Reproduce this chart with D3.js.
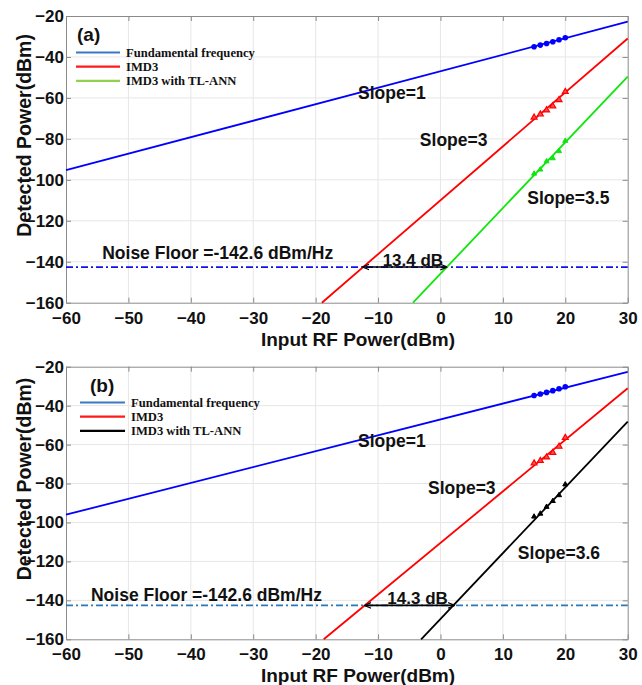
<!DOCTYPE html>
<html>
<head>
<meta charset="utf-8">
<script src="https://cdn.jsdelivr.net/npm/d3@7"></script>
<style>
  body { margin: 0; background: #fff; }
  text { font-family: 'Liberation Sans', Arial, sans-serif; font-weight: bold; fill: #111; }
  .legend text { font-family: 'Liberation Serif', 'Times New Roman', serif; font-size: 12.6px; }
</style>
</head>
<body>
<div id="chart"></div>
<script>
// data
const xTicks = [-60, -50, -40, -30, -20, -10, 0, 10, 20, 30]
const yTicks = [-20, -40, -60, -80, -100, -120, -140, -160]
const legendLabels = ['Fundamental frequency', 'IMD3', 'IMD3 with TL-ANN']
const noiseFloor = -142.6
const noiseLabel = 'Noise Floor =-142.6 dBm/Hz'

const measuredX = [15, 16, 17, 18, 19, 20]

// panel (a)
const fundLineA = [[-60, -95.3], [30, -22.8]]
const imd3LineA = [[-19, -160], [30, -31]]
const annLineA = [[-4.4, -160], [30, -49.6]]
const fundPtsA = [-35, -34.2, -33.4, -32.6, -31.6, -30.6]
const imd3PtsA = [-69.5, -68, -66, -64, -61, -57]
const annPtsA = [-97, -95, -91, -89.5, -86, -81]
const gapA = [-12.4, 1.0]
const gapLabelA = '13.4 dB'
const slopeLabelsA = ['Slope=1', 'Slope=3', 'Slope=3.5']

// panel (b)
const fundLineB = [[-60, -96], [30, -22.6]]
const imd3LineB = [[-18.7, -160], [30, -31.1]]
const annLineB = [[-3.1, -160], [30, -48.2]]
const fundPtsB = [-34.8, -34, -33.2, -32.3, -31.3, -30.3]
const imd3PtsB = [-69.6, -68.3, -66.5, -64.2, -61, -56.5]
const annPtsB = [-97, -95.5, -92, -89, -86, -80.5]
const gapB = [-12.1, 2.2]
const gapLabelB = '14.3 dB'
const slopeLabelsB = ['Slope=1', 'Slope=3', 'Slope=3.6']

const width = 642
const height = 685

const svg = d3.select('#chart')
  .append('svg')
  .attr('width', width)
  .attr('height', height)

const defs = svg.append('defs')
defs.append('marker')
  .attr('id', 'arrow')
  .attr('viewBox', '0 0 10 10')
  .attr('refX', 9)
  .attr('refY', 5)
  .attr('markerWidth', 7)
  .attr('markerHeight', 7)
  .attr('markerUnits', 'userSpaceOnUse')
  .attr('orient', 'auto-start-reverse')
  .append('path')
  .attr('d', 'M0,1 L10,5 L0,9')
  .attr('fill', 'none')
  .attr('stroke', '#000')
  .attr('stroke-width', 1.6)

const panels = [
  {
    tag: '(a)', top: 16, bottom: 302.7,
    fundLine: fundLineA, imd3Line: imd3LineA, annLine: annLineA,
    fundPts: fundPtsA, imd3Pts: imd3PtsA, annPts: annPtsA,
    annColor: '#0ee60e', annLegend: '#92d050', noiseColor: '#1010f0',
    gap: gapA, gapLabel: gapLabelA, slopes: slopeLabelsA,
    slopePos: [[-13.2, -60.5], [-3.3, -83.5], [13.9, -111.8]],
    noisePos: [-54.2, -138.8],
    tagPos: [77, 41], legendX: 76, legendY: 52.5, legendW: 44
  },
  {
    tag: '(b)', top: 366.7, bottom: 639.3,
    fundLine: fundLineB, imd3Line: imd3LineB, annLine: annLineB,
    fundPts: fundPtsB, imd3Pts: imd3PtsB, annPts: annPtsB,
    annColor: '#000', annLegend: '#000', noiseColor: '#2a78b8',
    gap: gapB, gapLabel: gapLabelB, slopes: slopeLabelsB,
    slopePos: [[-13.2, -61], [-2.0, -85.2], [12.4, -118.6]],
    noisePos: [-56.0, -140.3],
    tagPos: [90, 392], legendX: 80, legendY: 402.5, legendW: 45
  }
]

panels.forEach(drawPanel)

function drawPanel(p) {
  const g = svg.append('g')

  const x = d3.scaleLinear().domain([-60, 30]).range([66, 627.7])
  const y = d3.scaleLinear().domain([-160, -20]).range([p.bottom, p.top])

  // grid
  g.append('g')
    .selectAll('line')
    .data(xTicks.slice(1, -1))
    .enter()
    .append('line')
    .attr('x1', d => x(d))
    .attr('x2', d => x(d))
    .attr('y1', p.top)
    .attr('y2', p.bottom)
    .attr('stroke', '#e6e6e6')

  g.append('g')
    .selectAll('line')
    .data(yTicks.slice(1, -1))
    .enter()
    .append('line')
    .attr('y1', d => y(d))
    .attr('y2', d => y(d))
    .attr('x1', x(-60))
    .attr('x2', x(30))
    .attr('stroke', '#e6e6e6')

  // axes, ticks pointing inward like matlab
  const axisColor = '#8a8a8a'
  const bottomAxis = g.append('g')
    .attr('transform', `translate(0,${p.bottom})`)
    .call(d3.axisBottom(x).tickValues(xTicks).tickSize(-5).tickSizeOuter(0).tickPadding(9))
  const leftAxis = g.append('g')
    .attr('transform', `translate(66,0)`)
    .call(d3.axisLeft(y).tickValues(yTicks).tickSize(-5).tickSizeOuter(0).tickPadding(2))
  const topAxis = g.append('g')
    .attr('transform', `translate(0,${p.top})`)
    .call(d3.axisTop(x).tickValues(xTicks).tickSize(-5).tickSizeOuter(0).tickFormat(''))
  const rightAxis = g.append('g')
    .attr('transform', `translate(${x(30)},0)`)
    .call(d3.axisRight(y).tickValues(yTicks).tickSize(-5).tickSizeOuter(0).tickFormat(''))

  ;[bottomAxis, leftAxis, topAxis, rightAxis].forEach(a => {
    a.selectAll('path, line').attr('stroke', axisColor)
    a.selectAll('text')
      .style('font-family', "'Liberation Sans', Arial, sans-serif")
      .style('font-weight', 'bold')
      .style('font-size', '17px')
      .attr('fill', '#111')
  })

  // axis titles
  g.append('text')
    .text('Input RF Power(dBm)')
    .attr('x', 358)
    .attr('y', p.bottom + 43)
    .attr('text-anchor', 'middle')
    .style('font-size', '19px')

  g.append('text')
    .text('Detected Power(dBm)')
    .attr('text-anchor', 'middle')
    .attr('transform', `translate(31,${(p.top + p.bottom) / 2 - 24}) rotate(-90)`)
    .style('font-size', '19.5px')

  // noise floor
  g.append('line')
    .attr('x1', x(-60))
    .attr('x2', x(30))
    .attr('y1', y(noiseFloor))
    .attr('y2', y(noiseFloor))
    .attr('stroke', p.noiseColor)
    .attr('stroke-width', 1.8)
    .attr('stroke-dasharray', '7,3,2,3')

  // fitted lines
  const line = d3.line().x(d => x(d[0])).y(d => y(d[1]))
  const series = [
    { pts: p.fundLine, color: '#0000ff' },
    { pts: p.imd3Line, color: '#ff0000' },
    { pts: p.annLine, color: p.annColor }
  ]
  g.selectAll('.fit')
    .data(series)
    .enter()
    .append('path')
    .attr('d', d => line(d.pts))
    .attr('fill', 'none')
    .attr('stroke', d => d.color)
    .attr('stroke-width', 1.8)

  // measured points
  g.selectAll('.fund-dot')
    .data(measuredX.map((d, i) => [d, p.fundPts[i]]))
    .enter()
    .append('circle')
    .attr('cx', d => x(d[0]))
    .attr('cy', d => y(d[1]))
    .attr('r', 2.8)
    .attr('fill', '#0000ff')

  g.selectAll('.imd3-dot')
    .data(measuredX.map((d, i) => [d, p.imd3Pts[i]]))
    .enter()
    .append('path')
    .attr('d', d3.symbol().type(d3.symbolTriangle).size(15))
    .attr('transform', d => `translate(${x(d[0])},${y(d[1])})`)
    .attr('fill', '#ff5050')
    .attr('stroke', '#ff0000')
    .attr('stroke-width', 1.2)

  g.selectAll('.ann-dot')
    .data(measuredX.map((d, i) => [d, p.annPts[i]]))
    .enter()
    .append('path')
    .attr('d', d3.symbol().type(d3.symbolTriangle).size(11))
    .attr('transform', d => `translate(${x(d[0])},${y(d[1])})`)
    .attr('fill', p.annColor)
    .attr('stroke', p.annColor)

  // gap arrow
  g.append('line')
    .attr('x1', x(p.gap[0]))
    .attr('x2', x(p.gap[1]))
    .attr('y1', y(noiseFloor))
    .attr('y2', y(noiseFloor))
    .attr('stroke', '#000')
    .attr('stroke-width', 1.6)
    .attr('marker-start', 'url(#arrow)')
    .attr('marker-end', 'url(#arrow)')

  g.append('text')
    .text(p.gapLabel)
    .attr('x', x((p.gap[0] + p.gap[1]) / 2) + 8)
    .attr('y', y(noiseFloor) - 1)
    .attr('text-anchor', 'middle')
    .style('font-size', '17px')

  // annotations
  g.append('text')
    .text(noiseLabel)
    .attr('x', x(p.noisePos[0]))
    .attr('y', y(p.noisePos[1]))
    .style('font-size', '17.5px')

  g.selectAll('.slope')
    .data(p.slopes)
    .enter()
    .append('text')
    .text(d => d)
    .attr('x', (d, i) => x(p.slopePos[i][0]))
    .attr('y', (d, i) => y(p.slopePos[i][1]))
    .style('font-size', '17.5px')

  // legend
  g.append('text')
    .text(p.tag)
    .attr('x', p.tagPos[0])
    .attr('y', p.tagPos[1])
    .style('font-size', '19px')

  const legend = g.append('g').attr('class', 'legend')
  const legendColors = ['#3a78c4', '#ff1a1a', p.annLegend]
  const rows = legend.selectAll('g')
    .data(legendLabels)
    .enter()
    .append('g')
    .attr('transform', (d, i) => `translate(${p.legendX},${p.legendY + i * 14.2})`)
  rows.append('line')
    .attr('x1', 0)
    .attr('x2', p.legendW)
    .attr('stroke', (d, i) => legendColors[i])
    .attr('stroke-width', 2.2)
  rows.append('text')
    .text(d => d)
    .attr('x', p.legendW + 6)
    .attr('y', 4.3)
}
</script>
</body>
</html>
